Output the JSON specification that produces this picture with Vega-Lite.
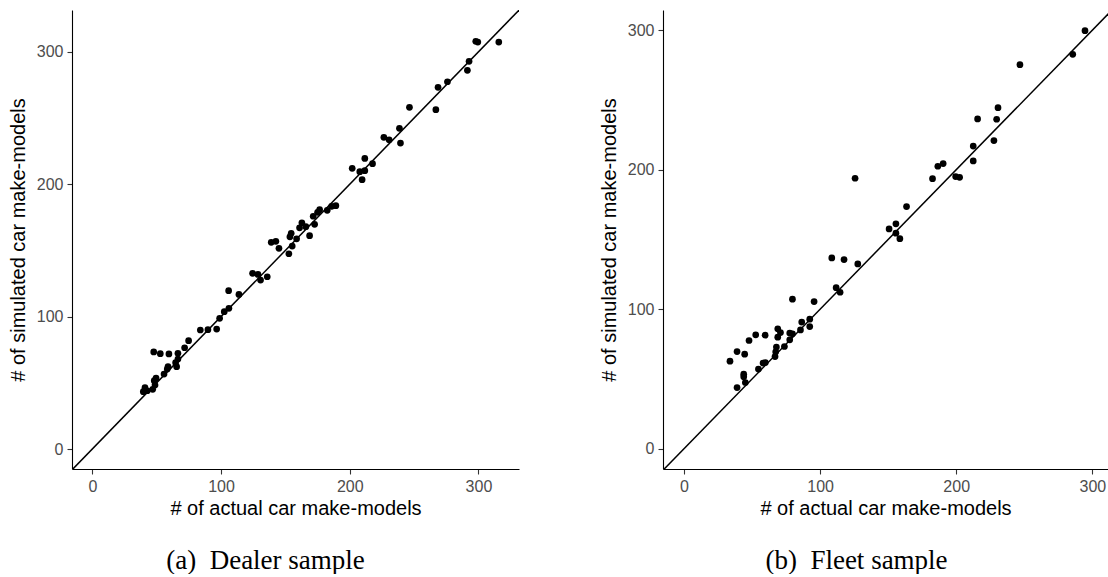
{
  "$schema": "https://vega.github.io/schema/vega-lite/v6.json",
  "padding": {"left": 8, "top": 10, "right": 0, "bottom": 0},
  "background": "white",
  "datasets": {
    "dealer": [
      {"actual":315.8,"sim":307.4},{"actual":297.9,"sim":308},{"actual":299.5,"sim":307.4},{"actual":292.7,"sim":292.8},{"actual":291.4,"sim":286},{"actual":275.9,"sim":277.4},{"actual":268.6,"sim":273.2},{"actual":266.9,"sim":256.3},{"actual":246.4,"sim":258.1},{"actual":238.6,"sim":242.2},{"actual":239.4,"sim":231.1},{"actual":226.5,"sim":235.4},{"actual":230.6,"sim":233.6},{"actual":217.7,"sim":215.5},{"actual":211.7,"sim":219.5},{"actual":211.7,"sim":210.2},{"actual":207.8,"sim":209.5},{"actual":201.9,"sim":212},{"actual":209.6,"sim":203.4},{"actual":189.2,"sim":183.8},{"actual":185.9,"sim":183.3},{"actual":182.5,"sim":180.3},{"actual":176.6,"sim":180.8},{"actual":175,"sim":178.8},{"actual":171.6,"sim":175.8},{"actual":172.7,"sim":169.7},{"actual":168.8,"sim":161.1},{"actual":162.8,"sim":170.9},{"actual":161,"sim":167.1},{"actual":165.9,"sim":167.9},{"actual":154.5,"sim":162.9},{"actual":158.7,"sim":158.8},{"actual":155.3,"sim":153.3},{"actual":153.5,"sim":160.3},{"actual":152.7,"sim":147.5},{"actual":139,"sim":156.1},{"actual":142.6,"sim":156.9},{"actual":145,"sim":151.6},{"actual":124.5,"sim":132.7},{"actual":128.7,"sim":131.9},{"actual":130.7,"sim":127.6},{"actual":135.9,"sim":130.1},{"actual":105.9,"sim":119.6},{"actual":113.9,"sim":116.8},{"actual":106.1,"sim":106.3},{"actual":102.5,"sim":103.7},{"actual":98.9,"sim":98.7},{"actual":96.6,"sim":90.6},{"actual":83.9,"sim":89.9},{"actual":89.8,"sim":90.1},{"actual":74.8,"sim":81.8},{"actual":71.7,"sim":76.5},{"actual":66.5,"sim":72.3},{"actual":59.5,"sim":71.8},{"actual":52.8,"sim":72},{"actual":47.7,"sim":73.3},{"actual":66.5,"sim":68},{"actual":64.7,"sim":65.2},{"actual":65.5,"sim":62.2},{"actual":58.8,"sim":62.2},{"actual":58.2,"sim":60.4},{"actual":55.7,"sim":56.6},{"actual":49.5,"sim":53.6},{"actual":48.1,"sim":51.6},{"actual":48.7,"sim":48.3},{"actual":46.9,"sim":45.1},{"actual":40.9,"sim":46.3},{"actual":39.6,"sim":43.3},{"actual":42.7,"sim":44}
    ],
    "fleet": [
      {"actual":294.6,"sim":299.7},{"actual":285.6,"sim":282.7},{"actual":246.8,"sim":275.3},{"actual":230.7,"sim":244.5},{"actual":229.7,"sim":236.2},{"actual":215.7,"sim":236.4},{"actual":227.7,"sim":220.9},{"actual":212.5,"sim":217},{"actual":212.5,"sim":206.3},{"actual":190.4,"sim":204.4},{"actual":186.5,"sim":202.5},{"actual":182.6,"sim":193.6},{"actual":199.6,"sim":195.1},{"actual":202.5,"sim":194.6},{"actual":125.7,"sim":193.9},{"actual":163.5,"sim":173.6},{"actual":155.7,"sim":161.2},{"actual":150.7,"sim":157.6},{"actual":155.7,"sim":154.5},{"actual":158.6,"sim":150.6},{"actual":108.6,"sim":136.8},{"actual":117.6,"sim":135.6},{"actual":127.7,"sim":132.5},{"actual":111.8,"sim":115.5},{"actual":114.7,"sim":112.2},{"actual":79.7,"sim":107.2},{"actual":95.6,"sim":105.5},{"actual":92.4,"sim":92.9},{"actual":92.4,"sim":87.6},{"actual":86.5,"sim":90.8},{"actual":85.6,"sim":85.2},{"actual":77.7,"sim":82.9},{"actual":79.7,"sim":82.4},{"actual":77.7,"sim":78.1},{"actual":68.9,"sim":86},{"actual":70.9,"sim":83.3},{"actual":68.9,"sim":80},{"actual":59.6,"sim":81.4},{"actual":52.7,"sim":81.7},{"actual":47.8,"sim":77.6},{"actual":39,"sim":69.7},{"actual":44.6,"sim":67.8},{"actual":33.8,"sim":62.8},{"actual":73.8,"sim":73.3},{"actual":67.9,"sim":72.9},{"actual":67.4,"sim":69.5},{"actual":66.9,"sim":66.1},{"actual":59.8,"sim":61.8},{"actual":58.1,"sim":61.4},{"actual":54.7,"sim":57.1},{"actual":43.9,"sim":53.5},{"actual":43.9,"sim":51.6},{"actual":45.1,"sim":47.5},{"actual":39,"sim":43.9}
    ],
    "identity": [{"actual":-30,"sim":-30},{"actual":400,"sim":400}]
  },
  "config": {
    "view": {"stroke": null},
    "axis": {
      "grid": false,
      "domainColor": "black",
      "domainWidth": 1.1,
      "tickColor": "#333333",
      "tickWidth": 1.1,
      "tickSize": 5,
      "labelFont": "Liberation Sans",
      "labelFontSize": 16,
      "labelColor": "#4D4D4D",
      "labelPadding": 4,
      "titleFont": "Liberation Sans",
      "titleFontSize": 20,
      "titleFontWeight": "normal",
      "titleColor": "black",
      "titlePadding": 4
    },
    "title": {
      "font": "Liberation Serif",
      "fontSize": 27,
      "fontWeight": "normal",
      "color": "black",
      "orient": "bottom",
      "anchor": "middle",
      "offset": 30
    }
  },
  "bounds": "flush",
  "spacing": 144,
  "hconcat": [
    {
      "width": 447,
      "height": 459,
      "title": {"text": "(a)\u2002Dealer sample", "dx": -30},
      "layer": [
        {
          "data": {"name": "identity"},
          "mark": {"type": "line", "color": "black", "strokeWidth": 1.5, "clip": true},
          "encoding": {
            "x": {"field": "actual", "type": "quantitative", "scale": {"domain": [-15.8, 331.5], "nice": false, "zero": false}, "axis": {"title": "# of actual car make-models", "values": [0, 100, 200, 300]}},
            "y": {"field": "sim", "type": "quantitative", "scale": {"domain": [-15.1, 331.6], "nice": false, "zero": false}, "axis": {"title": "# of simulated car make-models", "values": [0, 100, 200, 300], "titlePadding": 8}}
          }
        },
        {
          "data": {"name": "dealer"},
          "mark": {"type": "circle", "color": "black", "opacity": 1, "size": 45},
          "encoding": {
            "x": {"field": "actual", "type": "quantitative"},
            "y": {"field": "sim", "type": "quantitative"}
          }
        }
      ]
    },
    {
      "width": 445,
      "height": 459,
      "title": {"text": "(b)\u2002Fleet sample", "dx": -29},
      "layer": [
        {
          "data": {"name": "identity"},
          "mark": {"type": "line", "color": "black", "strokeWidth": 1.5, "clip": true},
          "encoding": {
            "x": {"field": "actual", "type": "quantitative", "scale": {"domain": [-15.4, 311.5], "nice": false, "zero": false}, "axis": {"title": "# of actual car make-models", "values": [0, 100, 200, 300]}},
            "y": {"field": "sim", "type": "quantitative", "scale": {"domain": [-14.5, 314.5], "nice": false, "zero": false}, "axis": {"title": "# of simulated car make-models", "values": [0, 100, 200, 300], "titlePadding": 8}}
          }
        },
        {
          "data": {"name": "fleet"},
          "mark": {"type": "circle", "color": "black", "opacity": 1, "size": 45},
          "encoding": {
            "x": {"field": "actual", "type": "quantitative"},
            "y": {"field": "sim", "type": "quantitative"}
          }
        }
      ]
    }
  ]
}
